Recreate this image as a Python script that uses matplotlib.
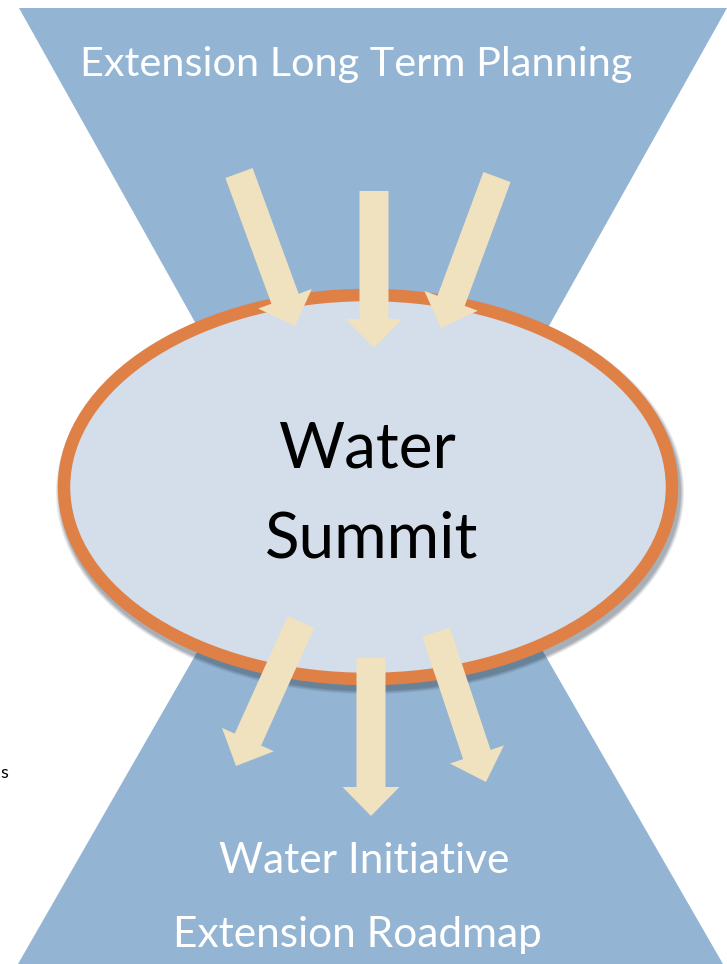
import matplotlib
matplotlib.use("Agg")
import matplotlib.pyplot as plt
from matplotlib.patches import Polygon, Ellipse, FancyArrow

# hourglass halves (pixel coords, y down)
top_shape = [(19, 8), (727, 8), (373, 640)]
bottom_shape = [(18, 964), (723, 964), (370, 351)]

# summit ellipse: centre, width, height (stroke centre)
summit_centre = (368, 487)
summit_size = (608, 384)

# arrows: tail centre -> tip
arrows_in = [((239, 173), (295, 326)),
             ((374, 191), (374, 348)),
             ((497, 177), (441, 328))]
arrows_out = [((301, 622), (236, 766)),
              ((371, 658), (371, 816)),
              ((436, 632), (486, 782))]

# labels: text, centre x, baseline y, target width
top_label = ("Extension Long Term Planning", 356, 76, 552)
centre_labels = [("Water", 367, 468), ("Summit", 372, 557)]
bottom_labels = [("Water Initiative", 364, 873, 291),
                 ("Extension Roadmap", 357, 947, 369)]

BLUE = "#93b4d2"
FILL = "#d3deea"
ORANGE = "#df8147"
ARROW = "#f0e1bf"

plt.rcParams["font.family"] = ["Lato", "DejaVu Sans"]

fig = plt.figure(figsize=(7.27, 9.64), dpi=100)
ax = fig.add_axes([0, 0, 1, 1])
ax.set_xlim(0, 727)
ax.set_ylim(964, 0)
ax.axis("off")

ax.add_patch(Polygon(top_shape, closed=True, fc=BLUE, ec="none"))
ax.add_patch(Polygon(bottom_shape, closed=True, fc=BLUE, ec="none"))

# soft shadow under the ellipse
for i, a in enumerate([0.10, 0.10, 0.12, 0.15]):
    grow = 8 - 2 * i
    ax.add_patch(Ellipse((summit_centre[0] + 2, summit_centre[1] + 5),
                         summit_size[0] + 12 + grow, summit_size[1] + 12 + grow,
                         fc="#2b3a4a", ec="none", alpha=a))

ax.add_patch(Ellipse(summit_centre, *summit_size, fc=FILL, ec=ORANGE, lw=9))

for (x0, y0), (x1, y1) in arrows_in + arrows_out:
    ax.add_patch(FancyArrow(x0, y0, x1 - x0, y1 - y0, width=29, head_width=57,
                            head_length=29, length_includes_head=True,
                            fc=ARROW, ec="none"))

fig.canvas.draw()
renderer = fig.canvas.get_renderer()


def put(label, color):
    s, cx, base, w = label
    t = ax.text(cx, base, s, color=color, fontsize=30, ha="center", va="baseline")
    ext = t.get_window_extent(renderer)
    t.set_fontsize(30 * w / ext.width)


put(top_label, "white")
for lab in bottom_labels:
    put(lab, "white")

# both centre words share one size (cap height about 46 px)
for s, cx, base in centre_labels:
    ax.text(cx, base, s, color="black", fontsize=46, ha="center", va="baseline")

# small fragment at the left edge
ax.text(0, 778, "s", color="black", fontsize=13, ha="left", va="baseline")

fig.savefig("out.png", dpi=100)
